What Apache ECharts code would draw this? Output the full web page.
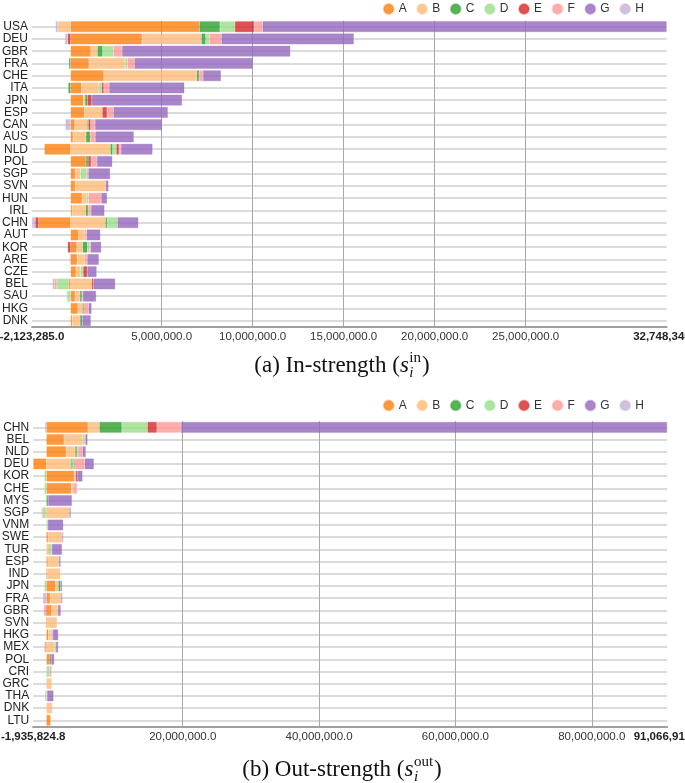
<!DOCTYPE html>
<html><head><meta charset="utf-8">
<script src="https://cdn.jsdelivr.net/npm/echarts@6/dist/echarts.min.js"></script>
<style>html,body{margin:0;padding:0;background:#fff}#c{width:685px;height:783px}</style>
</head><body><div id="c"></div>
<script>
const seriesNames = ['A','B','C','D','E','F','G','H'];
const colors = ['#ff7f0e','#ffbb78','#2ca02c','#98df8a','#d62728','#ff9896','#9467bd','#c5b0d5'];

// (a) In-strength
const inCountries = ['USA','DEU','GBR','FRA','CHE','ITA','JPN','ESP','CAN','AUS','NLD','POL','SGP','SVN','HUN','IRL','CHN','AUT','KOR','ARE','CZE','BEL','SAU','HKG','DNK'];
const inA = [7.07e6,3.92e6,1.11e6,1.01e6,1.82e6,0.60e6,0.70e6,0.75e6,0.23e6,0.13e6,-1.44e6,0.84e6,0.25e6,0.25e6,0.63e6,0.08e6,-1.757e6,0.44e6,0.34e6,0.36e6,0.30e6,-0.10e6,0.25e6,0.40e6,0.09e6];
const inB = [-0.70e6,3.26e6,0.36e6,1.98e6,5.11e6,0.95e6,0.09e6,0.99e6,0.69e6,0.71e6,2.18e6,0,0.29e6,1.68e6,0.25e6,0.74e6,1.91e6,0.34e6,0.32e6,0.41e6,0.24e6,1.16e6,0.26e6,0.25e6,0.43e6];
const inC = [1.14e6,0.24e6,0.29e6,-0.09e6,0.13e6,-0.13e6,0.13e6,0,0.07e6,0.24e6,0.13e6,0.12e6,0,0,0,0.14e6,0.10e6,0,0.26e6,0,0,0,0.11e6,0.07e6,0.12e6];
const inD = [0.81e6,0.20e6,0.59e6,0.13e6,0,0.16e6,0,0,0,0,0.20e6,0,0.35e6,0,0.10e6,0,0.56e6,0,0.11e6,0,0.15e6,-0.66e6,-0.17e6,0,0];
const inE = [1.06e6,-0.16e6,0,0,0,0.11e6,0.24e6,0.26e6,0.11e6,0,0.15e6,0.16e6,0,0,0,0,-0.187e6,0,-0.16e6,0,0.22e6,0.10e6,0,0,0];
const inF = [0.46e6,0.66e6,0.47e6,0.38e6,0.21e6,0.29e6,0,0.35e6,0.24e6,0.27e6,0.10e6,0.32e6,0.08e6,0,0.70e6,0.16e6,0,0.10e6,0.07e6,0.14e6,0,-0.13e6,0.05e6,0.26e6,0];
const inG = [22208340,7.28e6,9.25e6,6.51e6,0.99e6,4.14e6,4.96e6,2.99e6,3.68e6,2.12e6,1.74e6,0.85e6,1.20e6,0.15e6,0.32e6,0.74e6,1.15e6,0.75e6,0.58e6,0.64e6,0.52e6,1.19e6,0.73e6,0.17e6,0.47e6];
const inH = [-0.13e6,-0.15e6,0,0,0,0,0,0,-0.29e6,0,0,0,0,0,0,0,-179285,0,0,-0.05e6,0,-0.11e6,-0.05e6,0,0];
const inMin = -2123285.0, inMax = 32748340.0;
const inLabelTicks = [inMin, 5e6, 10e6, 15e6, 20e6, 25e6, inMax];
const inGridTicks = [5e6, 10e6, 15e6, 20e6, 25e6];

// (b) Out-strength
const outCountries = ['CHN','BEL','NLD','DEU','KOR','CHE','MYS','SGP','VNM','SWE','TUR','ESP','IND','JPN','FRA','GBR','SVN','HKG','MEX','POL','CRI','GRC','THA','DNK','LTU'];
const outA = [6.11e6,2.60e6,2.90e6,-1935824.8,4.08e6,3.65e6,0,-0.12e6,0,0.25e6,0,0.20e6,0.10e6,1.35e6,0.55e6,0.78e6,0.05e6,0.30e6,0.10e6,0.45e6,0,0,0,0,0.62e6];
const outB = [1.66e6,2.72e6,1.32e6,3.65e6,0.20e6,0.26e6,0,3.37e6,0,1.95e6,0.44e6,1.58e6,1.95e6,0.40e6,1.63e6,0.90e6,1.50e6,0.34e6,1.05e6,0,0,0.78e6,0.10e6,0.76e6,0];
const outC = [3.30e6,0,0.26e6,0.20e6,0,0,0.25e6,0,0,0,0.10e6,0,0,0.30e6,0,0,0,0,0,0.10e6,0,0,0,0,0];
const outD = [3.75e6,0.30e6,0.15e6,0.30e6,-0.29e6,-0.29e6,0,-0.44e6,0.20e6,0,0.25e6,0.08e6,0,-0.29e6,0,0,0,0.08e6,0.24e6,0,0.46e6,0,-0.20e6,0,0];
const outE = [1.40e6,0,0,0.10e6,0.22e6,0,0,0,0,0,0,0,0,0,0,-0.10e6,0,0,0,0.15e6,0,0,0,0,0];
const outF = [3.52e6,0.10e6,0.66e6,1.35e6,0,0.57e6,0,0,0,0.15e6,0,0,0,0,0,-0.28e6,0,0.22e6,-0.29e6,0,0.30e6,0,0,0.06e6,0];
const outG = [71326910,0.32e6,0.49e6,1.37e6,0.80e6,0,3.50e6,0.20e6,2.28e6,0.10e6,1.50e6,0.22e6,0,0.24e6,0.16e6,0.42e6,0,0.80e6,0.34e6,0.45e6,0,0,0.95e6,0,0];
const outH = [-0.20e6,0,0,0,0,0,0,-0.15e6,0,0,0,0,0,0,-0.52e6,0,0,0,0,0,0,0,0,0,0];
const outMin = -1935824.8, outMax = 91066910.0;
const outLabelTicks = [outMin, 20e6, 40e6, 60e6, 80e6, outMax];
const outGridTicks = [20e6, 40e6, 60e6, 80e6];

const inData = [inA,inB,inC,inD,inE,inF,inG,inH];
const outData = [outA,outB,outC,outD,outE,outF,outG,outH];

function fmt(v){ return v.toLocaleString('en-US',{minimumFractionDigits:1,maximumFractionDigits:1}); }
function hexA(h,a){ const n=parseInt(h.slice(1),16); return 'rgba('+(n>>16)+','+((n>>8)&255)+','+(n&255)+','+a+')'; }

function xAxisFor(gi, mn, mx, labelTicks, gridTicks){
  return {
    type:'value', gridIndex:gi, min:mn, max:mx,
    axisLine:{show:true, lineStyle:{color:'#a0a0a0', width:2}},
    axisTick:{show:false, customValues:gridTicks},
    splitLine:{show:true, lineStyle:{color:'#a8a8a8', width:1}},
    axisLabel:{
      customValues:labelTicks, margin:4, fontSize:11.5, color:'#333', fontFamily:'Liberation Sans',
      hideOverlap:false,
      formatter:function(v){ const s=fmt(v); return (Math.abs(v-mn)<1||Math.abs(v-mx)<1)?'{b|'+s+'}':s; },
      rich:{b:{fontWeight:'bold', fontSize:11.5, color:'#222', fontFamily:'Liberation Sans'}}
    }
  };
}
function yAxisFor(gi, cats){
  return {
    type:'category', gridIndex:gi, data:cats, inverse:true,
    axisLine:{show:false}, axisTick:{show:false, alignWithLabel:true},
    splitLine:{show:true, alignWithLabel:true, interval:0, lineStyle:{color:'#cfcfcf', width:1.5}},
    axisLabel:{interval:0, margin:4, fontSize:12, color:'#222', fontFamily:'Liberation Sans'}
  };
}
function seriesFor(gi, data, stack){
  return seriesNames.map((nm,i)=>({
    name:nm, type:'bar', stack:stack, xAxisIndex:gi, yAxisIndex:gi, barWidth:11,
    itemStyle:{color:hexA(colors[i],0.8), borderColor:hexA(colors[i],0.35), borderWidth:0.8},
    emphasis:{disabled:true},
    data:data[i].map(v=>v===0?null:v)
  }));
}
function legendFor(top){
  return {
    data:seriesNames, top:top, left:382.7, orient:'horizontal', padding:0,
    icon:'circle', itemWidth:10, itemHeight:10, itemGap:9.5,
    textStyle:{fontSize:12, color:'#333', fontFamily:'Liberation Sans', width:10}
  };
}

// captions
const capFont = 'Liberation Serif';
const capSize = 23;
const cv = document.createElement('canvas').getContext('2d');
function tw(t, size, italic){ cv.font=(italic?'italic ':'')+size+'px "'+capFont+'"'; return cv.measureText(t).width; }
function caption(main, sup, cy){
  const subSize = 15;
  const w1 = tw(main, capSize), ws = tw('s', capSize, true), wi = tw('i', subSize, true), wsup = tw(sup, subSize);
  const w2 = tw(')', capSize);
  const total = w1 + ws + Math.max(wi, wsup) + 1.5 + w2;
  let x = 342 - total/2;
  const els = [];
  const base = {fill:'#111', fontFamily:capFont, verticalAlign:'middle'};
  els.push({type:'text', x:x, y:cy, style:Object.assign({}, base, {text:main, fontSize:capSize})});
  x += w1;
  els.push({type:'text', x:x, y:cy, style:Object.assign({}, base, {text:'s', fontSize:capSize, fontStyle:'italic'})});
  x += ws;
  els.push({type:'text', x:x+0.5, y:cy+7, style:Object.assign({}, base, {text:'i', fontSize:subSize, fontStyle:'italic'})});
  els.push({type:'text', x:x+0.5, y:cy-8, style:Object.assign({}, base, {text:sup, fontSize:subSize})});
  x += Math.max(wi, wsup) + 1.5;
  els.push({type:'text', x:x, y:cy, style:Object.assign({}, base, {text:')', fontSize:capSize})});
  return els;
}

const chart = echarts.init(document.getElementById('c'), null, {renderer:'canvas'});
chart.setOption({
  animation:false,
  grid:[
    {left:32, right:18.3, top:20.6, height:306.2, containLabel:false, outerBoundsMode:'none'},
    {left:33.2, right:17.8, top:421.2, height:305.2, containLabel:false, outerBoundsMode:'none'}
  ],
  legend:[legendFor(3), legendFor(399.5)],
  xAxis:[xAxisFor(0,inMin,inMax,inLabelTicks,inGridTicks), xAxisFor(1,outMin,outMax,outLabelTicks,outGridTicks)],
  yAxis:[yAxisFor(0,inCountries), yAxisFor(1,outCountries)],
  series:seriesFor(0,inData,'in').concat(seriesFor(1,outData,'out')),
  graphic:caption('(a) In-strength (', 'in', 366).concat(caption('(b) Out-strength (', 'out', 770))
});
</script></body></html>
